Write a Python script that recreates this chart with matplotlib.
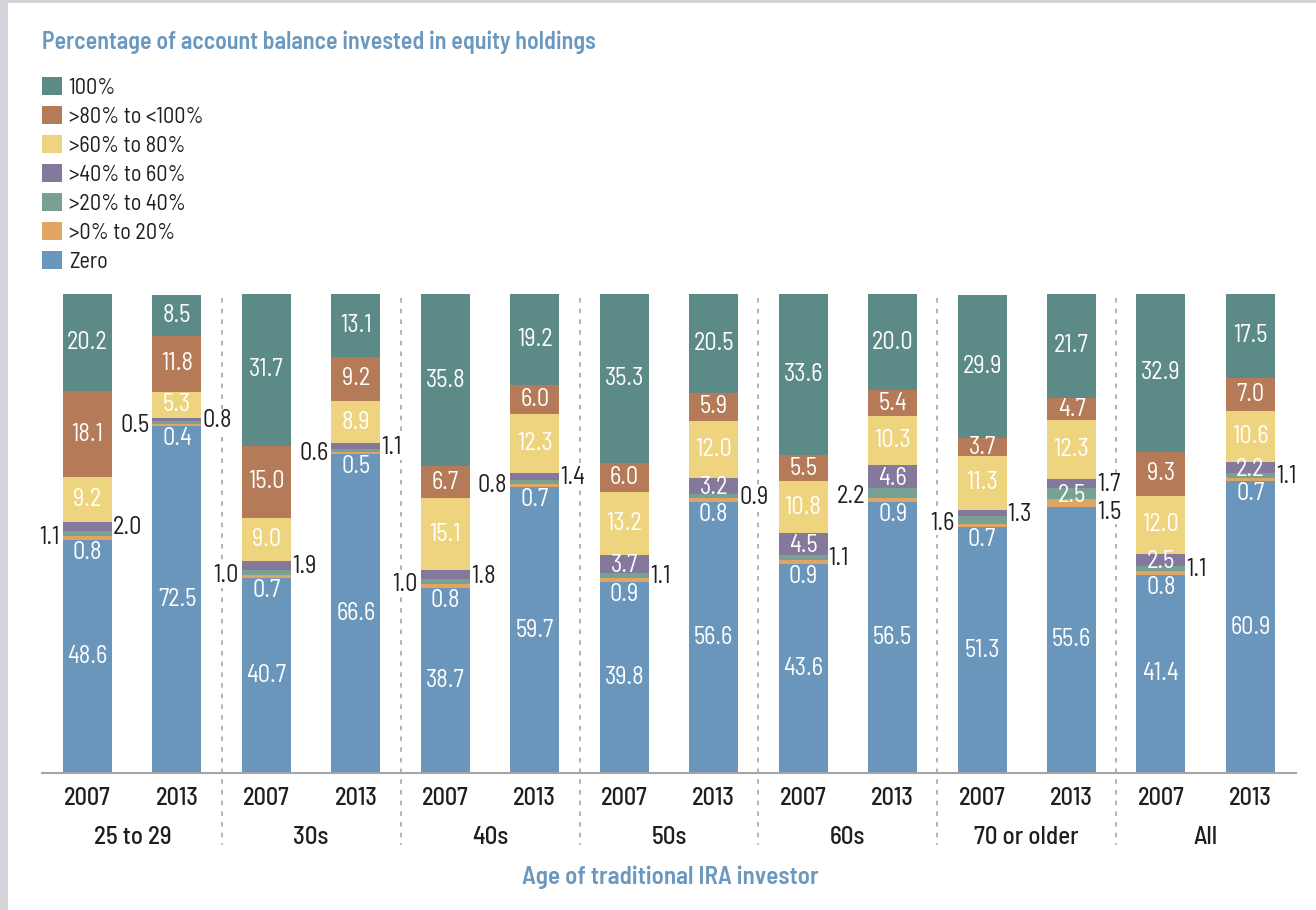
import matplotlib
matplotlib.use("Agg")
import matplotlib.pyplot as plt
from matplotlib.patches import Patch, Rectangle
import numpy as np

# ---------------- data ----------------
years = ["2007", "2013"] * 7
groups = ["25 to 29", "30s", "40s", "50s", "60s", "70 or older", "All"]
series_names = ["Zero", ">0% to 20%", ">20% to 40%", ">40% to 60%",
                ">60% to 80%", ">80% to <100%", "100%"]
zero = [48.6, 72.5, 40.7, 66.6, 38.7, 59.7, 39.8, 56.6, 43.6, 56.5, 51.3, 55.6, 41.4, 60.9]
p0_20 = [0.8, 0.4, 0.7, 0.5, 0.8, 0.7, 0.9, 0.8, 0.9, 0.9, 0.7, 1.5, 0.8, 0.7]
p20_40 = [1.1, 0.5, 1.0, 0.6, 1.0, 0.8, 1.1, 0.9, 1.1, 2.2, 1.6, 2.5, 1.1, 1.1]
p40_60 = [2.0, 0.8, 1.9, 1.1, 1.8, 1.4, 3.7, 3.2, 4.5, 4.6, 1.3, 1.7, 2.5, 2.2]
p60_80 = [9.2, 5.3, 9.0, 8.9, 15.1, 12.3, 13.2, 12.0, 10.8, 10.3, 11.3, 12.3, 12.0, 10.6]
p80_100 = [18.1, 11.8, 15.0, 9.2, 6.7, 6.0, 6.0, 5.9, 5.5, 5.4, 3.7, 4.7, 9.3, 7.0]
p100 = [20.2, 8.5, 31.7, 13.1, 35.8, 19.2, 35.3, 20.5, 33.6, 20.0, 29.9, 21.7, 32.9, 17.5]

title = "Percentage of account balance invested in equity holdings"
xtitle = "Age of traditional IRA investor"

# ---------------- style ----------------
colors = ["#6a96bb", "#e0a463", "#78a093", "#84789c", "#efd47f", "#b57a57", "#5c8a87"]
# label placement for the thin segments (style only):
# 'B' = below inside blue, 'C' = centred, 'L' = left of bar, 'R' = right of bar
place_lo = ['B'] * 11 + ['R'] + ['B'] * 2
place_g2 = ['L', 'L', 'L', 'L', 'L', 'L', 'R', 'R', 'R', 'L', 'L', 'C', 'R', 'R']
place_g3 = ['R', 'R', 'R', 'R', 'R', 'R', 'C', 'C', 'C', 'C', 'R', 'R', 'C', 'C']

FONT = ['Barlow Semi Condensed', 'Barlow Condensed', 'DejaVu Sans']
plt.rcParams['font.family'] = FONT
BLUE_T = "#6b98bf"
DARK = "#1e1e1e"

W, H = 1316, 910
fig = plt.figure(figsize=(W / 100, H / 100), dpi=100)
fig.patch.set_facecolor("white")

def fx(px):
    return px / W

def fy(py):
    return 1 - py / H

# gray frame strips (left and top)
fig.add_artist(Rectangle((0, 0), fx(8), 1, transform=fig.transFigure,
                         facecolor="#d3d4d9", edgecolor="none", zorder=0))
fig.add_artist(Rectangle((0, fy(3)), 1, 3 / H, transform=fig.transFigure,
                         facecolor="#d3d4d9", edgecolor="none", zorder=0))

ax_l, ax_r, ax_t, ax_b = 42, 1296, 294, 773
ax = fig.add_axes([fx(ax_l), fy(ax_b), (ax_r - ax_l) / W, (ax_b - ax_t) / H])
ax.set_facecolor("none")
n = len(years)
x = np.arange(n)
ax.set_xlim(-0.509, 13.51)
ax.set_ylim(0, 100)
for s in ax.spines.values():
    s.set_visible(False)
ax.spines['bottom'].set_visible(True)
ax.spines['bottom'].set_color("#a5a5a5")
ax.spines['bottom'].set_linewidth(1.5)
ax.set_yticks([])
ax.set_xticks(x)
ax.set_xticklabels(years, fontsize=17.5, fontweight='medium', color=DARK)
ax.tick_params(axis='x', length=0, pad=10)

series = [zero, p0_20, p20_40, p40_60, p60_80, p80_100, p100]
bw = 0.548
bottoms = np.zeros(n)
bars_bottom = []
for vals, c, name in zip(series, colors, series_names):
    v = np.array(vals)
    ax.bar(x, v, bottom=bottoms, width=bw, color=c, edgecolor='none', label=name, zorder=2)
    bars_bottom.append(bottoms.copy())
    bottoms = bottoms + v

# dashed separators between groups
for g in range(1, len(groups)):
    xs = 2 * g - 0.5
    ax.plot([xs, xs], [99.2, -15.0], ls=(0, (3, 4)), color="#9d9d9d", lw=1.1,
            clip_on=False, zorder=1)

lab_kw = dict(fontsize=17.5, zorder=5)

def seg_center(k, i):
    return bars_bottom[k][i] + series[k][i] / 2

for i in range(n):
    # large segments: centred white labels
    for k in [0, 4, 5, 6]:
        ax.text(x[i], seg_center(k, i), f"{series[k][i]:.1f}", ha='center', va='center',
                color='white', **lab_kw)
    for k, places in [(1, place_lo), (2, place_g2), (3, place_g3)]:
        p = places[i]
        txt = f"{series[k][i]:.1f}"
        yc = seg_center(k, i)
        if k == 1 and p == 'R':
            yc = bars_bottom[k][i] - 0.9
        if p == 'B':
            ax.text(x[i], bars_bottom[k][i] - 0.2, txt, ha='center', va='top',
                    color='white', **lab_kw)
        elif p == 'C':
            ax.text(x[i], yc - 0.4, txt, ha='center', va='center', color='white', **lab_kw)
        elif p == 'L':
            ax.text(x[i] - bw / 2 - 0.035, yc - 0.7, txt, ha='right', va='center', color=DARK,
                    bbox=dict(facecolor='white', edgecolor='none', pad=0.3), **lab_kw)
        else:
            ax.text(x[i] + bw / 2 + 0.012, yc - 0.3, txt, ha='left', va='center', color=DARK,
                    bbox=dict(facecolor='white', edgecolor='none', pad=0.3), **lab_kw)

# group labels
for g, name in enumerate(groups):
    ax.text(2 * g + 0.5, -13.4, name, ha='center', va='center', fontsize=18,
            fontweight='medium', color=DARK, transform=ax.transData, clip_on=False)

# axis title
fig.text(fx(670), fy(877), xtitle, ha='center', va='center', fontsize=18,
         fontweight='semibold', color=BLUE_T)

# title
fig.text(fx(42), fy(42), title, ha='left', va='center', fontsize=17.2,
         fontweight='semibold', color=BLUE_T)

# legend (100% at top)
handles = [Patch(facecolor=c, edgecolor='none') for c in colors][::-1]
labels = series_names[::-1]
leg = fig.legend(handles, labels, loc='upper left', bbox_to_anchor=(fx(42), fy(77)),
                 frameon=False, fontsize=16, handlelength=0.9, handleheight=0.9,
                 handletextpad=0.3, labelspacing=0.32, borderpad=0, borderaxespad=0)
for t in leg.get_texts():
    t.set_color(DARK)

fig.savefig("out.png", dpi=100, facecolor="white")
